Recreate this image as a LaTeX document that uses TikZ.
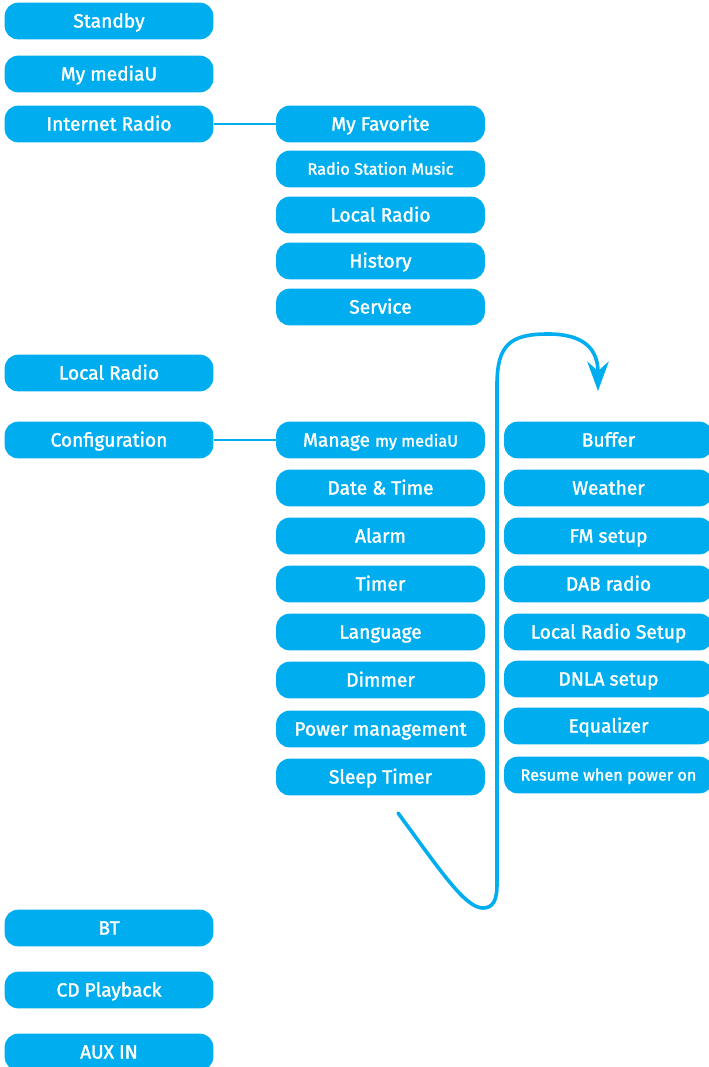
\documentclass[tikz,border=0pt]{standalone}
\usepackage{fontspec}
\setmainfont{Fira Sans}
\newfontfamily\menufont{Fira Sans}[FakeBold=1.6]
\usetikzlibrary{arrows.meta}

\definecolor{menublue}{RGB}{0,174,239}

\tikzset{
	menu/.style = {fill=menublue, text=white, rounded corners=10pt,
		minimum width=156.5pt, minimum height=27.5pt, inner sep=0pt,
		text height=9.8pt, text depth=0pt,
		font=\menufont\fontsize{14.4}{16}\selectfont},
	small/.style = {font=\menufont\fontsize{12.2}{14}\selectfont, text height=8.4pt},
	link/.style = {draw=menublue, line width=1.6pt},
	flow/.style = {draw=menublue, line width=2.7pt, line cap=round,
		-{Stealth[length=22pt, width=16pt, inset=7pt]}}
}

\begin{document}
\begin{tikzpicture}[x=0.75pt,y=-0.75pt]
		\useasboundingbox (0,0) rectangle (709,1067);
		\begin{scope}
			\clip (0,0) rectangle (709,1067);

			% main menu
			\node[menu] (standby) at (109,21) {Standby};
			\node[menu] (mymediau) at (109,74) {My mediaU};
			\node[menu] (internet) at (109,124) {Internet Radio};
			\node[menu] (localradio) at (109,373) {Local Radio};
			\node[menu] (config) at (109,440) {Configuration};
			\node[menu] (bt) at (109,928) {BT};
			\node[menu] (cd) at (109,990) {CD Playback};
			\node[menu] (aux) at (109,1052) {AUX IN};

			% internet radio
			\node[menu] (favorite) at (380.5,124) {My Favorite};
			\node[menu, small] (station) at (380.5,169) {Radio Station Music};
			\node[menu] (local) at (380.5,215) {Local Radio};
			\node[menu] (history) at (380.5,261) {History};
			\node[menu] (service) at (380.5,307) {Service};

			% configuration
			\node[menu] (manage) at (380.5,440) {Manage {\fontsize{12.2}{14}\selectfont my mediaU}};
			\node[menu] (datetime) at (380.5,488) {Date \& Time};
			\node[menu] (alarm) at (380.5,536) {Alarm};
			\node[menu] (timer) at (380.5,584) {Timer};
			\node[menu] (language) at (380.5,632) {Language};
			\node[menu] (dimmer) at (380.5,680) {Dimmer};
			\node[menu] (power) at (380.5,729) {Power management};
			\node[menu] (sleep) at (380.5,777) {Sleep Timer};

			\node[menu] (buffer) at (608.5,440) {Buffer};
			\node[menu] (weather) at (608.5,488) {Weather};
			\node[menu] (fm) at (608.5,536) {FM setup};
			\node[menu] (dab) at (608.5,584) {DAB radio};
			\node[menu] (localsetup) at (608.5,632) {Local Radio Setup};
			\node[menu] (dnla) at (608.5,679) {DNLA setup};
			\node[menu] (equalizer) at (608.5,726) {Equalizer};
			\node[menu, small] (resume) at (608.5,775) {Resume when power on};

			\draw[link] (internet) -- (favorite);
			\draw[link] (config) -- (manage);

			% continued list
			\coordinate (from) at (398,813);
			\coordinate (to) at (598,391);
			\draw[flow] (from) .. controls (440,870) and (465,908) .. (483,908)
				.. controls (493,908) and (497,900) .. (497,885)
				-- (497,385)
				.. controls (497,345) and (510,334) .. (548,334)
				.. controls (585,334) and (598,350) .. (to);
		\end{scope}
\end{tikzpicture}
\end{document}
